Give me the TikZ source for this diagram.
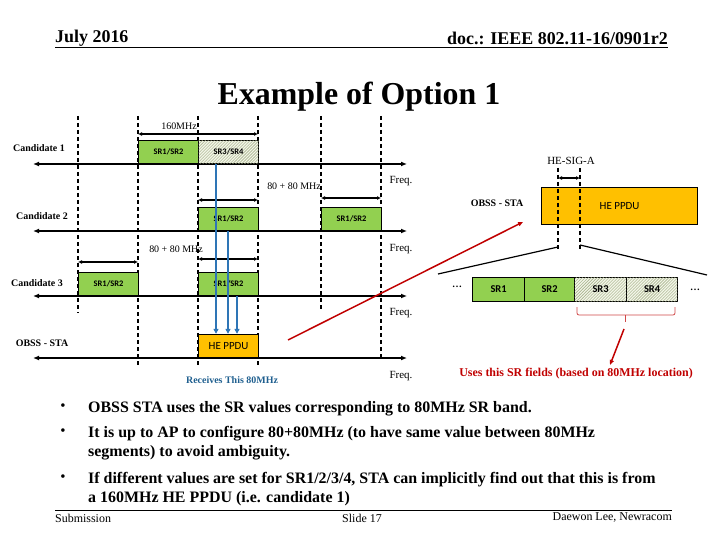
\documentclass[tikz,border=0pt]{standalone}
\usepackage{fontspec}
\setmainfont{Liberation Serif}
\newfontfamily\boxfont{Carlito}
\usetikzlibrary{arrows.meta, patterns, positioning, calc}

\definecolor{srgreen}{HTML}{92D050}
\definecolor{ppduorange}{HTML}{FFC000}
\definecolor{rxblue}{HTML}{2E75B6}
\definecolor{rxtext}{HTML}{1F5F8F}
\definecolor{notered}{HTML}{C00000}
\definecolor{bracered}{HTML}{D04848}
\definecolor{hatchbg}{HTML}{F3F6E8}
\definecolor{hatchln}{HTML}{9CA880}

\begin{document}
\begin{tikzpicture}[
    x = 1bp, y = -1bp,
    srbox/.style    = {draw = black, line width = 1.2pt, fill = srgreen,
                       minimum height = 23bp, inner sep = 0pt,
                       font = \boxfont\bfseries\fontsize{8.5}{10}\selectfont},
    hatchbox/.style = {srbox, fill = hatchbg,
                       postaction = {pattern = north east lines, pattern color = hatchln}},
    fieldbox/.style = {minimum height = 24bp, anchor = north west,
                       font = \boxfont\bfseries\fontsize{10.5}{12}\selectfont},
    ppdubox/.style  = {srbox, fill = ppduorange,
                       font = \boxfont\fontsize{11}{12}\selectfont},
    axis/.style     = {{Latex[length=6bp, width=5bp]}-{Latex[length=6bp, width=5bp]},
                       line width = 1.6pt},
    band/.style     = {line width = 1.2pt, dash pattern = on 4bp off 3bp},
    dim/.style      = {{Latex[length=4bp, width=4bp]}-{Latex[length=4bp, width=4bp]},
                       line width = 1.3pt},
    rxarr/.style    = {-{Triangle[length=5bp, width=5bp]}, rxblue, line width = 1.6pt},
    redarr/.style   = {-{Triangle[length=5bp, width=4bp]}, notered, line width = 1.5pt},
    cand/.style     = {font = \bfseries\fontsize{10}{11}\selectfont},
    lbl/.style      = {font = \fontsize{10}{11}\selectfont},
    freq/.style     = {font = \fontsize{11}{12}\selectfont},
    bullet/.style   = {font = \bfseries\fontsize{16}{19}\selectfont, align = left,
                       anchor = north west, inner sep = 0pt},
    foot/.style     = {font = \fontsize{12}{13}\selectfont, inner sep = 0pt},
  ]
    \useasboundingbox (0,0) rectangle (720,540);

    %% ── Header and title ─────────────────────────────────────────
    \node[font = \bfseries\fontsize{18}{20}\selectfont, anchor = west, inner sep = 0pt]
      (date) at (55,38) {July 2016};
    \node[font = \bfseries\fontsize{18}{20}\selectfont, anchor = east, inner sep = 0pt]
      (doc) at (668,38) {doc.: IEEE 802.11-16/0901r2};
    \draw[line width = 1pt] (55,48) -- (668,48);
    \node[font = \bfseries\fontsize{32}{34}\selectfont] (title) at (359,97) {Example of Option 1};

    %% ── Band edges ───────────────────────────────────────────────
    \draw[band] (78,116)  -- (78,313);
    \draw[band] (138,116) -- (138,368);
    \draw[band] (198,116) -- (198,366);
    \draw[band] (258,116) -- (258,366);
    \draw[band] (321,116) -- (321,312);
    \draw[band] (381,116) -- (381,357);

    %% ── Frequency axes ───────────────────────────────────────────
    \foreach \y/\n in {164/1, 231/2, 296/3, 358/4} {
      \coordinate (L\n) at (33,\y);
      \coordinate (R\n) at (407,\y);
      \draw[axis] (L\n) -- (R\n);
    }
    \node[freq] (f1) at (401,181) {Freq.};
    \node[freq] (f2) at (401,249) {Freq.};
    \node[freq] (f3) at (401,313) {Freq.};
    \node[freq] (f4) at (401,376) {Freq.};

    %% ── Row labels ───────────────────────────────────────────────
    \node[cand] (cand1) at (39,148) {Candidate 1};
    \node[cand] (cand2) at (42,216) {Candidate 2};
    \node[cand] (cand3) at (37,283) {Candidate 3};
    \node[cand] (obss1) at (42,343) {OBSS - STA};

    %% ── Candidate 1 ──────────────────────────────────────────────
    \node[srbox, minimum width = 60bp, anchor = south west] (c1a) at (138,164) {SR1/SR2};
    \node[hatchbox, minimum width = 60bp, anchor = south west] (c1b) at (198,164) {SR3/SR4};
    \coordinate (d1a) at (138,134);
    \coordinate (d1b) at (258,134);
    \draw[dim] (d1a) -- (d1b);
    \node[lbl] (bw1) at (179,126) {160MHz};

    %% ── Candidate 2 ──────────────────────────────────────────────
    \node[srbox, minimum width = 60bp, anchor = south west] (c2a) at (198,231) {SR1/SR2};
    \node[srbox, minimum width = 60bp, anchor = south west] (c2b) at (321,231) {SR1/SR2};
    \coordinate (d2a) at (198,200);
    \coordinate (d2b) at (258,200);
    \coordinate (d2c) at (321,198);
    \coordinate (d2d) at (381,198);
    \draw[dim] (d2a) -- (d2b);
    \draw[dim] (d2c) -- (d2d);
    \node[lbl] (bw2) at (294,186) {80 + 80 MHz};

    %% ── Candidate 3 ──────────────────────────────────────────────
    \node[srbox, minimum width = 60bp, anchor = south west] (c3a) at (78,296) {SR1/SR2};
    \node[srbox, minimum width = 60bp, anchor = south west] (c3b) at (198,296) {SR1/SR2};
    \coordinate (d3a) at (78,262);
    \coordinate (d3b) at (138,262);
    \coordinate (d3c) at (198,259);
    \coordinate (d3d) at (258,259);
    \draw[dim] (d3a) -- (d3b);
    \draw[dim] (d3c) -- (d3d);
    \node[lbl] (bw3) at (176,249) {80 + 80 MHz};

    %% ── OBSS STA reception ───────────────────────────────────────
    \node[ppdubox, minimum width = 60bp, anchor = south west] (ppdu1) at (198,358) {HE PPDU};
    \coordinate (rx1) at (216,164);
    \coordinate (rx2) at (228,231);
    \coordinate (rx3) at (237,296);
    \draw[rxarr] (rx1) -- (rx1 |- ppdu1.north);
    \draw[rxarr] (rx2) -- (rx2 |- ppdu1.north);
    \draw[rxarr] (rx3) -- (rx3 |- ppdu1.north);
    \node[font = \bfseries\fontsize{10}{11}\selectfont, text = rxtext] (recv) at (232,380)
      {Receives This 80MHz};

    %% ── Zoomed HE PPDU ───────────────────────────────────────────
    \node[cand] (obss2) at (497,203) {OBSS - STA};
    \node[ppdubox, minimum width = 156bp, minimum height = 37bp, anchor = north west]
      (ppdu2) at (541,187) {HE PPDU};
    \coordinate (sigL) at (558,168);
    \coordinate (sigR) at (580,168);
    \draw[band] (sigL) -- ++(0,84);
    \draw[band] (sigR) -- ++(0,84);
    \draw[dim] (558,178) -- (580,178);
    \node[freq] (sig) at (571,161) {HE-SIG-A};
    \coordinate (fanL) at (438,274);
    \coordinate (fanR) at (707,275);
    \draw[line width = 1.2pt] (558,247) -- (fanL);
    \draw[line width = 1.2pt] (580,245) -- (fanR);
    \coordinate (zs) at (288,340);
    \coordinate (ze) at (523,222);
    \draw[redarr] (zs) -- (ze);

    %% ── SR fields ────────────────────────────────────────────────
    \node[srbox, fieldbox, minimum width = 52bp] (sr1) at (472,277) {SR1};
    \node[srbox, fieldbox, minimum width = 50bp] (sr2) at (524,277) {SR2};
    \node[hatchbox, fieldbox, minimum width = 52bp] (sr3) at (574,277) {SR3};
    \node[hatchbox, fieldbox, minimum width = 51bp] (sr4) at (626,277) {SR4};
    \node[font = \bfseries] (dotsL) at (457,287) {\dots};
    \node[font = \bfseries] (dotsR) at (695,290) {\dots};
    \draw[bracered, line width = 0.8pt, rounded corners = 2pt]
      (577,307) -- (577,315) -- (675,315) -- (675,307);
    \draw[bracered, line width = 0.8pt] (625,315) -- (625,322);
    \coordinate (note) at (624,329);
    \node[font = \bfseries\fontsize{12}{13}\selectfont, text = notered] (uses) at (576,374)
      {Uses this SR fields (based on 80MHz location)};
    \draw[redarr] (note) -- (uses.north -| 610,0);

    %% ── Bullets ──────────────────────────────────────────────────
    \node[bullet] (b1) at (88,401) {OBSS STA uses the SR values corresponding to 80MHz SR band.};
    \node[bullet] (b2) at (88,426) {It is up to AP to configure 80+80MHz (to have same value between 80MHz\\
      segments) to avoid ambiguity.};
    \node[bullet] (b3) at (88,472) {If different values are set for SR1/2/3/4, STA can implicitly find out that this is from\\
      a 160MHz HE PPDU (i.e. candidate 1)};
    \foreach \y in {407, 432, 478} \node[font = \fontsize{15}{16}\selectfont] at (63,\y) {\textbullet};

    %% ── Footer ───────────────────────────────────────────────────
    \draw[line width = 0.8pt] (55,510) -- (672,510);
    \node[foot, anchor = west] (sub) at (55,518) {Submission};
    \node[foot] (slide) at (362,518) {Slide 17};
    \node[foot, anchor = east] (auth) at (672,518) {Daewon Lee, Newracom};
  \end{tikzpicture}
\end{document}
